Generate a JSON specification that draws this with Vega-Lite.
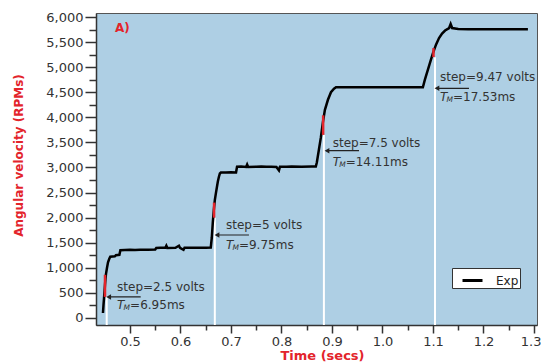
{
  "$schema": "https://vega.github.io/schema/vega-lite/v6.json",
  "width": 441,
  "height": 312,
  "autosize": {"type": "none"},
  "padding": {"left": 96, "top": 13, "right": 4, "bottom": 39},
  "background": "white",
  "config": {
    "view": {"fill": "#aecfe4", "stroke": "#555555", "strokeWidth": 1},
    "font": "DejaVu Sans"
  },
  "datasets": {
    "curve": [
      {"t": 0.4465, "v": 100, "s": "Exp"}, {"t": 0.4475, "v": 250, "s": "Exp"}, {"t": 0.4485, "v": 380, "s": "Exp"},
      {"t": 0.4495, "v": 520, "s": "Exp"}, {"t": 0.4505, "v": 660, "s": "Exp"}, {"t": 0.4515, "v": 780, "s": "Exp"},
      {"t": 0.4525, "v": 880, "s": "Exp"}, {"t": 0.4545, "v": 1000, "s": "Exp"}, {"t": 0.4565, "v": 1110, "s": "Exp"},
      {"t": 0.459, "v": 1180, "s": "Exp"}, {"t": 0.461, "v": 1220, "s": "Exp"}, {"t": 0.47, "v": 1230, "s": "Exp"},
      {"t": 0.472, "v": 1250, "s": "Exp"}, {"t": 0.479, "v": 1260, "s": "Exp"}, {"t": 0.481, "v": 1350, "s": "Exp"},
      {"t": 0.49, "v": 1355, "s": "Exp"}, {"t": 0.5, "v": 1360, "s": "Exp"}, {"t": 0.51, "v": 1355, "s": "Exp"},
      {"t": 0.52, "v": 1360, "s": "Exp"}, {"t": 0.535, "v": 1362, "s": "Exp"}, {"t": 0.55, "v": 1365, "s": "Exp"},
      {"t": 0.552, "v": 1395, "s": "Exp"}, {"t": 0.56, "v": 1398, "s": "Exp"}, {"t": 0.57, "v": 1400, "s": "Exp"},
      {"t": 0.572, "v": 1440, "s": "Exp"}, {"t": 0.574, "v": 1395, "s": "Exp"}, {"t": 0.59, "v": 1400, "s": "Exp"},
      {"t": 0.597, "v": 1440, "s": "Exp"}, {"t": 0.599, "v": 1400, "s": "Exp"}, {"t": 0.606, "v": 1360, "s": "Exp"},
      {"t": 0.608, "v": 1400, "s": "Exp"}, {"t": 0.63, "v": 1402, "s": "Exp"}, {"t": 0.64, "v": 1398, "s": "Exp"},
      {"t": 0.65, "v": 1400, "s": "Exp"}, {"t": 0.66, "v": 1405, "s": "Exp"},
      {"t": 0.662, "v": 1600, "s": "Exp"}, {"t": 0.664, "v": 1900, "s": "Exp"}, {"t": 0.666, "v": 2150, "s": "Exp"},
      {"t": 0.668, "v": 2350, "s": "Exp"}, {"t": 0.67, "v": 2480, "s": "Exp"}, {"t": 0.672, "v": 2600, "s": "Exp"},
      {"t": 0.674, "v": 2720, "s": "Exp"}, {"t": 0.676, "v": 2810, "s": "Exp"}, {"t": 0.678, "v": 2880, "s": "Exp"},
      {"t": 0.68, "v": 2900, "s": "Exp"}, {"t": 0.69, "v": 2900, "s": "Exp"}, {"t": 0.7, "v": 2905, "s": "Exp"},
      {"t": 0.71, "v": 2900, "s": "Exp"}, {"t": 0.712, "v": 3016, "s": "Exp"}, {"t": 0.72, "v": 3020, "s": "Exp"},
      {"t": 0.73, "v": 3010, "s": "Exp"}, {"t": 0.732, "v": 3060, "s": "Exp"}, {"t": 0.734, "v": 3010, "s": "Exp"},
      {"t": 0.75, "v": 3016, "s": "Exp"}, {"t": 0.76, "v": 3020, "s": "Exp"}, {"t": 0.77, "v": 3015, "s": "Exp"},
      {"t": 0.78, "v": 3016, "s": "Exp"}, {"t": 0.79, "v": 3010, "s": "Exp"}, {"t": 0.795, "v": 2940, "s": "Exp"},
      {"t": 0.797, "v": 3015, "s": "Exp"}, {"t": 0.81, "v": 3016, "s": "Exp"}, {"t": 0.82, "v": 3020, "s": "Exp"},
      {"t": 0.84, "v": 3016, "s": "Exp"}, {"t": 0.86, "v": 3020, "s": "Exp"}, {"t": 0.868, "v": 3020, "s": "Exp"},
      {"t": 0.87, "v": 3100, "s": "Exp"}, {"t": 0.874, "v": 3350, "s": "Exp"}, {"t": 0.878, "v": 3600, "s": "Exp"},
      {"t": 0.882, "v": 3900, "s": "Exp"}, {"t": 0.886, "v": 4150, "s": "Exp"}, {"t": 0.892, "v": 4350, "s": "Exp"},
      {"t": 0.898, "v": 4500, "s": "Exp"}, {"t": 0.904, "v": 4570, "s": "Exp"}, {"t": 0.908, "v": 4598, "s": "Exp"},
      {"t": 0.95, "v": 4600, "s": "Exp"}, {"t": 1.0, "v": 4598, "s": "Exp"}, {"t": 1.05, "v": 4600, "s": "Exp"},
      {"t": 1.08, "v": 4600, "s": "Exp"},
      {"t": 1.084, "v": 4750, "s": "Exp"}, {"t": 1.09, "v": 4950, "s": "Exp"}, {"t": 1.096, "v": 5150, "s": "Exp"},
      {"t": 1.1, "v": 5280, "s": "Exp"}, {"t": 1.106, "v": 5450, "s": "Exp"}, {"t": 1.112, "v": 5580, "s": "Exp"},
      {"t": 1.118, "v": 5670, "s": "Exp"}, {"t": 1.124, "v": 5730, "s": "Exp"}, {"t": 1.132, "v": 5780, "s": "Exp"},
      {"t": 1.135, "v": 5860, "s": "Exp"}, {"t": 1.138, "v": 5780, "s": "Exp"}, {"t": 1.15, "v": 5760, "s": "Exp"},
      {"t": 1.17, "v": 5755, "s": "Exp"}, {"t": 1.2, "v": 5754, "s": "Exp"}, {"t": 1.25, "v": 5754, "s": "Exp"},
      {"t": 1.288, "v": 5754, "s": "Exp"}
    ],
    "white": [
      {"t": 0.4539, "v": 420}, {"t": 0.668, "v": 2000}, {"t": 0.884, "v": 3650}, {"t": 1.104, "v": 5200}
    ],
    "red": [
      {"t": 0.4505, "v": 420, "v2": 860}, {"t": 0.6665, "v": 2000, "v2": 2300},
      {"t": 0.8825, "v": 3650, "v2": 4040}, {"t": 1.101, "v": 5200, "v2": 5380}
    ],
    "arrows": [
      {"t": 0.4578, "t2": 0.5212, "v": 420}, {"t": 0.6723, "t2": 0.7356, "v": 1654},
      {"t": 0.8901, "t2": 0.9535, "v": 3335}, {"t": 1.1079, "t2": 1.1713, "v": 4578}
    ],
    "steps": [
      {"t": 0.4745, "v": 626, "label": "step=2.5 volts"}, {"t": 0.69, "v": 1854, "label": "step=5 volts"},
      {"t": 0.9014, "v": 3494, "label": "step=7.5 volts"}, {"t": 1.1139, "v": 4810, "label": "step=9.47 volts"}
    ],
    "tm": [
      {"t": 0.4745, "v": 260, "label": "=6.95ms"}, {"t": 0.69, "v": 1455, "label": "=9.75ms"},
      {"t": 0.9014, "v": 3115, "label": "=14.11ms"}, {"t": 1.1139, "v": 4399, "label": "=17.53ms"}
    ],
    "panel": [{"t": 0.4703, "v": 5780, "label": "A)"}]
  },
  "encoding": {
    "x": {"field": "t", "type": "quantitative", "scale": {"domain": [0.4327, 1.306], "nice": false, "zero": false},
      "axis": {
        "title": "Time (secs)",
        "values": [0.5, 0.55, 0.6, 0.65, 0.7, 0.75, 0.8, 0.85, 0.9, 0.95, 1.0, 1.05, 1.1, 1.15, 1.2, 1.25, 1.3],
        "labelExpr": "abs(datum.value*10 - round(datum.value*10)) < 0.01 ? format(datum.value, '.1f') : ''",
        "tickSize": {"condition": {"test": "abs(datum.value*10 - round(datum.value*10)) < 0.01", "value": 8}, "value": 5},
        "labelOverlap": false, "labelFlush": 4, "labelFlushOffset": 7, "grid": false,
        "labelFont": "DejaVu Sans", "labelFontSize": 13, "labelColor": "#333333", "labelPadding": 2,
        "domainColor": "#333333", "domainWidth": 1.5, "tickColor": "#333333", "tickWidth": 1.5,
        "titleFont": "DejaVu Sans", "titleFontSize": 13, "titleFontWeight": "bold", "titleColor": "#e3242b",
        "titleX": 226, "titleY": 30, "titleBaseline": "middle", "titleAlign": "center"
      }
    },
    "y": {"field": "v", "type": "quantitative", "scale": {"domain": [-140, 6080], "nice": false, "zero": false},
      "axis": {
        "title": "Angular velocity (RPMs)",
        "values": [0, 250, 500, 750, 1000, 1250, 1500, 1750, 2000, 2250, 2500, 2750, 3000, 3250, 3500, 3750, 4000, 4250, 4500, 4750, 5000, 5250, 5500, 5750, 6000],
        "labelExpr": "datum.value % 500 === 0 ? format(datum.value, ',') : ''",
        "tickSize": {"condition": {"test": "datum.value % 500 === 0", "value": 11}, "value": 7},
        "labelOverlap": false, "labelFlush": false, "grid": false,
        "labelFont": "DejaVu Sans", "labelFontSize": 13, "labelColor": "#333333", "labelPadding": 2,
        "domainColor": "#333333", "domainWidth": 1.5, "tickColor": "#333333", "tickWidth": 1.5,
        "titleFont": "DejaVu Sans", "titleFontSize": 12, "titleFontWeight": "bold", "titleColor": "#e3242b",
        "titleX": -78, "titleY": 142, "titleAngle": -90, "titleBaseline": "middle", "titleAlign": "center"
      }
    }
  },
  "layer": [
    {
      "data": {"name": "white"},
      "mark": {"type": "rule", "color": "white", "strokeWidth": 2},
      "encoding": {"y2": {"datum": -140}}
    },
    {
      "data": {"name": "curve"},
      "mark": {"type": "line", "strokeWidth": 2.5, "interpolate": "linear"},
      "encoding": {
        "color": {"field": "s", "type": "nominal", "scale": {"range": ["black"]},
          "legend": {"title": null, "orient": "none", "legendX": 356, "legendY": 255, "fillColor": "white", "strokeColor": "#333333",
            "padding": 1, "symbolType": "stroke", "symbolStrokeWidth": 3, "symbolSize": 400, "symbolOffset": 8, "labelFontSize": 12,
            "labelFont": "DejaVu Sans", "labelColor": "#222222", "labelOffset": 12, "labelExpr": "datum.label + '  '", "cornerRadius": 0}
        }
      }
    },
    {
      "data": {"name": "red"},
      "mark": {"type": "rule", "color": "#e3242b", "strokeWidth": 2.5},
      "encoding": {"y2": {"field": "v2"}}
    },
    {
      "data": {"name": "arrows"},
      "mark": {"type": "rule", "color": "#222222", "strokeWidth": 1.2},
      "encoding": {"x2": {"field": "t2"}}
    },
    {
      "data": {"name": "arrows"},
      "mark": {"type": "point", "shape": "triangle-left", "filled": true, "color": "#222222", "size": 30, "opacity": 1}
    },
    {
      "data": {"name": "steps"},
      "mark": {"type": "text", "align": "left", "baseline": "middle", "font": "DejaVu Sans", "fontSize": 12, "color": "#333333"},
      "encoding": {"text": {"field": "label"}}
    },
    {
      "data": {"name": "tm"},
      "mark": {"type": "text", "align": "left", "baseline": "middle", "font": "DejaVu Sans", "fontSize": 12, "fontStyle": "italic", "color": "#333333", "text": "T"}
    },
    {
      "data": {"name": "tm"},
      "mark": {"type": "text", "align": "left", "baseline": "middle", "font": "DejaVu Sans", "fontSize": 7.5, "fontStyle": "italic", "color": "#333333", "text": "M", "dx": 6.5, "dy": 3}
    },
    {
      "data": {"name": "tm"},
      "mark": {"type": "text", "align": "left", "baseline": "middle", "font": "DejaVu Sans", "fontSize": 12, "color": "#333333", "dx": 13},
      "encoding": {"text": {"field": "label"}}
    },
    {
      "data": {"name": "panel"},
      "mark": {"type": "text", "align": "left", "baseline": "middle", "font": "DejaVu Sans", "fontSize": 12, "fontWeight": "bold", "color": "#e3242b"},
      "encoding": {"text": {"field": "label"}}
    }
  ]
}
